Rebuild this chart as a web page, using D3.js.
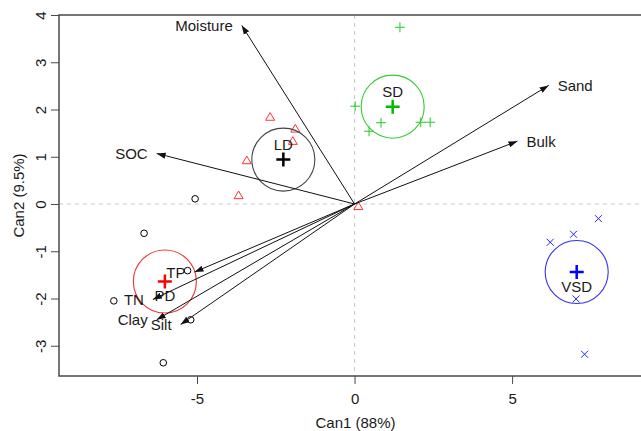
<!DOCTYPE html>
<html>
<head>
<meta charset="utf-8">
<style>
  body { margin: 0; background: #fff; }
  text { font-family: "Liberation Sans", Arial, sans-serif; font-size: 15px; fill: #1a1a1a; }
</style>
</head>
<body>
<svg width="641" height="431"></svg>
<script src="https://cdn.jsdelivr.net/npm/d3@7"></script>
<script>
// group scores: [Can1, Can2]
var groups = ["PD", "LD", "SD", "VSD"];
var pdPoints = [[-5.06, 0.11], [-6.68, -0.62], [-5.30, -1.41], [-7.64, -2.05], [-5.20, -2.45], [-6.07, -3.36]];
var ldPoints = [[-2.68, 1.84], [-1.88, 1.59], [-1.96, 1.33], [-3.42, 0.92], [-3.68, 0.18], [0.12, -0.05]];
var sdPoints = [[1.44, 3.74], [0.02, 2.07], [0.84, 1.72], [0.46, 1.54], [2.10, 1.73], [2.40, 1.73]];
var vsdPoints = [[7.74, -0.31], [6.21, -0.81], [6.95, -0.64], [7.03, -2.01], [7.30, -3.18]];
var centroids = [[-6.02, -1.64], [-2.26, 0.94], [1.21, 2.06], [7.05, -1.44]];
var circleRadius = 1.0; // in Can1 units

// structure vectors
var variables = ["Moisture", "SOC", "Sand", "Bulk", "TP", "TN", "Clay", "Silt"];
var vectors = [[-3.58, 3.78], [-6.28, 1.07], [6.16, 2.51], [5.17, 1.33], [-5.08, -1.44], [-6.40, -2.02], [-6.28, -2.45], [-5.52, -2.55]];

var xTicks = [-5, 0, 5];
var yTicks = [-3, -2, -1, 0, 1, 2, 3, 4];

var pointColors = ["#000000", "#ff3030", "#22cc22", "#2222ff"];
var centroidColors = ["#ff0000", "#000000", "#00bb00", "#0000ff"];
var ringColors = ["#ee3333", "#444444", "#33cc33", "#3333ee"];

var svg = d3.select("svg");
var plotLeft = 59, plotRight = 652, plotTop = 15, plotBottom = 376;

var x = d3.scaleLinear().domain([-9.38, 9.44]).range([plotLeft, plotRight]);
var y = d3.scaleLinear().domain([-3.64, 4]).range([plotBottom, plotTop]);

// reference lines
svg.append("line")
  .attr("x1", x(0)).attr("x2", x(0)).attr("y1", plotTop).attr("y2", plotBottom)
  .attr("stroke", "#c8c8c8").attr("stroke-dasharray", "4,4");
svg.append("line")
  .attr("x1", plotLeft).attr("x2", plotRight).attr("y1", y(0)).attr("y2", y(0))
  .attr("stroke", "#c8c8c8").attr("stroke-dasharray", "4,4");

// box
svg.append("rect")
  .attr("x", plotLeft).attr("y", plotTop).attr("width", plotRight - plotLeft).attr("height", plotBottom - plotTop)
  .attr("fill", "none").attr("stroke", "#4a4a4a").attr("stroke-width", 1.5);

// axes
var fmt = function(d) { return String(d); };
var xAxis = svg.append("g").attr("transform", "translate(0," + plotBottom + ")")
  .call(d3.axisBottom(x).tickValues(xTicks).tickSize(8).tickPadding(9).tickFormat(fmt));
xAxis.select(".domain").remove();
xAxis.selectAll("line").attr("stroke", "#4a4a4a");
xAxis.selectAll("text").attr("font-size", null).attr("font-family", null).attr("fill", null);

var yAxis = svg.append("g").attr("transform", "translate(" + plotLeft + ",0)")
  .call(d3.axisLeft(y).tickValues(yTicks).tickSize(8).tickFormat(fmt));
yAxis.select(".domain").remove();
yAxis.selectAll("line").attr("stroke", "#4a4a4a");
yAxis.selectAll("text")
  .attr("font-size", null).attr("font-family", null).attr("fill", null)
  .attr("x", null).attr("dy", null)
  .attr("text-anchor", "middle")
  .attr("transform", "translate(-19,0) rotate(-90)")
  .attr("dominant-baseline", "central");

svg.append("text").attr("x", (plotLeft + plotRight) / 2).attr("y", 428)
  .attr("text-anchor", "middle").text("Can1 (88%)");
svg.append("text")
  .attr("transform", "translate(18," + ((plotTop + plotBottom) / 2) + ") rotate(-90)")
  .attr("text-anchor", "middle").attr("dominant-baseline", "central").text("Can2 (9.5%)");

// points
var plot = svg.append("g");
function drawPoints(pts, shape, color) {
  pts.forEach(function(p) {
    var cx = x(p[0]), cy = y(p[1]);
    if (shape === "circle") {
      plot.append("circle").attr("cx", cx).attr("cy", cy).attr("r", 3.3)
        .attr("fill", "none").attr("stroke", color);
    } else if (shape === "triangle") {
      plot.append("path")
        .attr("d", "M" + cx + "," + (cy - 4.5) + "L" + (cx + 4.5) + "," + (cy + 3.2) + "L" + (cx - 4.5) + "," + (cy + 3.2) + "Z")
        .attr("fill", "none").attr("stroke", color);
    } else if (shape === "plus") {
      plot.append("path")
        .attr("d", "M" + (cx - 5) + "," + cy + "H" + (cx + 5) + "M" + cx + "," + (cy - 5) + "V" + (cy + 5))
        .attr("stroke", color);
    } else {
      plot.append("path")
        .attr("d", "M" + (cx - 3.5) + "," + (cy - 3.5) + "L" + (cx + 3.5) + "," + (cy + 3.5) +
          "M" + (cx - 3.5) + "," + (cy + 3.5) + "L" + (cx + 3.5) + "," + (cy - 3.5))
        .attr("stroke", color);
    }
  });
}
drawPoints(pdPoints, "circle", pointColors[0]);
drawPoints(ldPoints, "triangle", pointColors[1]);
drawPoints(sdPoints, "plus", pointColors[2]);
drawPoints(vsdPoints, "cross", pointColors[3]);

// vectors
svg.append("defs").append("marker")
  .attr("id", "head").attr("viewBox", "0 0 10 10").attr("refX", 10).attr("refY", 5)
  .attr("markerWidth", 9).attr("markerHeight", 9).attr("markerUnits", "userSpaceOnUse")
  .attr("orient", "auto")
  .append("path").attr("d", "M0,1.5L10,5L0,8.5Z").attr("fill", "#111");

var vec = svg.append("g");
vectors.forEach(function(v, i) {
  vec.append("line")
    .attr("x1", x(0)).attr("y1", y(0)).attr("x2", x(v[0])).attr("y2", y(v[1]))
    .attr("stroke", "#111").attr("stroke-width", 1).attr("marker-end", "url(#head)");
  var lx = x(v[0]) + (v[0] < 0 ? -9 : 9);
  vec.append("text")
    .attr("x", lx).attr("y", y(v[1]))
    .attr("text-anchor", v[0] < 0 ? "end" : "start")
    .attr("dominant-baseline", "central")
    .text(variables[i]);
});

// centroids, rings, labels
centroids.forEach(function(c, i) {
  var cx = x(c[0]), cy = y(c[1]);
  plot.append("circle").attr("cx", cx).attr("cy", cy)
    .attr("r", x(circleRadius) - x(0))
    .attr("fill", "none").attr("stroke", ringColors[i]).attr("stroke-width", 1.1);
  plot.append("path")
    .attr("d", "M" + (cx - 7) + "," + cy + "H" + (cx + 7) + "M" + cx + "," + (cy - 7) + "V" + (cy + 7))
    .attr("stroke", centroidColors[i]).attr("stroke-width", 2.5);
  plot.append("text")
    .attr("x", cx).attr("y", cy + (c[1] > 0 ? -15 : 14))
    .attr("text-anchor", "middle").attr("dominant-baseline", "central")
    .text(groups[i]);
});
</script>
</body>
</html>
